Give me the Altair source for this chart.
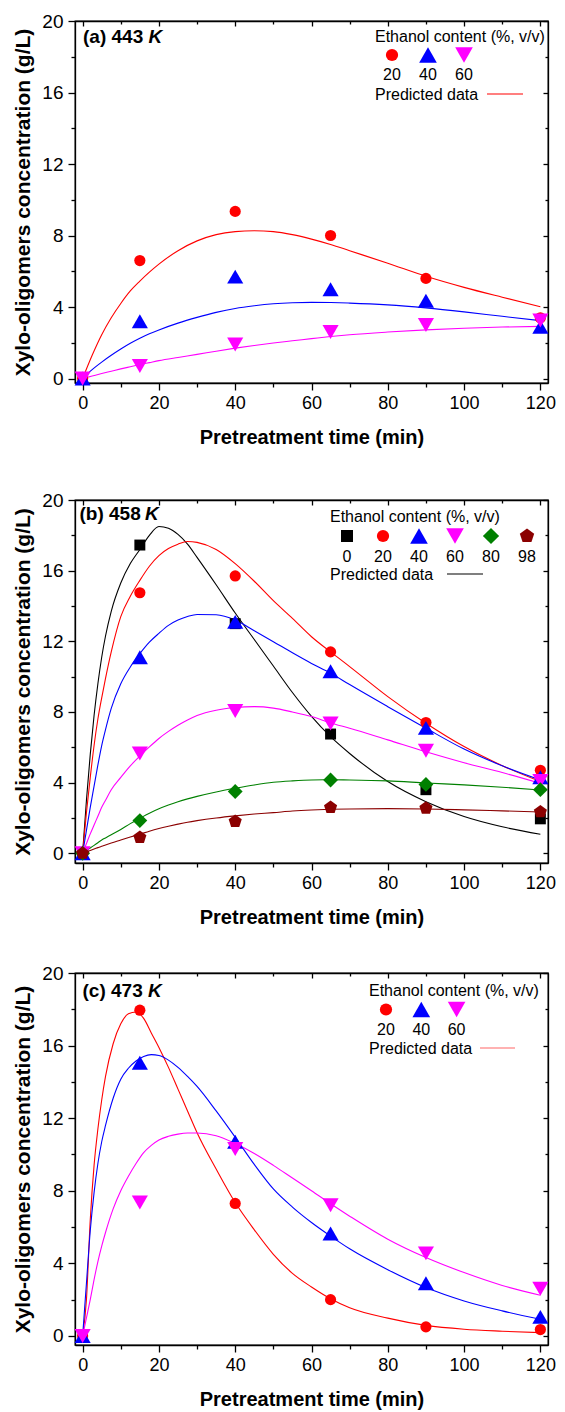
import altair as alt
import pandas as pd

FONT = "Liberation Sans"

# ---------------- data ----------------
TIME_PTS = [0, 15, 40, 65, 90, 120]

# (a) 443 K
A_SERIES = ["20", "40", "60"]
A_OBS = {
    "20": [0, 6.6, 9.35, 8.0, 5.6, 3.4],
    "40": [0, 3.2, 5.7, 5.0, 4.35, 2.9],
    "60": [0, 0.7, 1.9, 2.6, 3.0, 3.25],
}
A_FIT_T = [0, 2.5, 5, 7.5, 10, 12.5, 15, 17.5, 20, 25, 30, 35, 40, 45, 50, 55, 60, 65, 70, 80, 90, 100, 110, 120]
A_FIT = {
    "20": [0, 1.3, 2.45, 3.4, 4.2, 4.9, 5.45, 5.95, 6.4, 7.15, 7.7, 8.05, 8.22, 8.27, 8.22, 8.05, 7.8, 7.5, 7.15, 6.45, 5.72, 5.1, 4.55, 4.02],
    "40": [0, 0.5, 0.92, 1.3, 1.65, 1.97, 2.25, 2.5, 2.72, 3.1, 3.42, 3.7, 3.92, 4.07, 4.18, 4.24, 4.26, 4.25, 4.22, 4.12, 3.95, 3.73, 3.48, 3.24],
    "60": [0, 0.14, 0.28, 0.41, 0.54, 0.66, 0.78, 0.89, 1.0, 1.18, 1.35, 1.53, 1.7, 1.85, 1.99, 2.11, 2.23, 2.35, 2.45, 2.6, 2.72, 2.81, 2.88, 2.92],
}

# (b) 458 K
B_SERIES = ["0", "20", "40", "60", "80", "98"]
B_OBS = {
    "0": [0, 17.45, 13.0, 6.75, 3.6, 1.95],
    "20": [0, 14.75, 15.7, 11.4, 7.4, 4.7],
    "40": [0, 11.1, 13.1, 10.3, 7.1, 4.3],
    "60": [0, 5.65, 8.05, 7.35, 5.8, 4.1],
    "80": [0, 1.85, 3.5, 4.15, 3.9, 3.6],
    "98": [0, 0.9, 1.8, 2.6, 2.55, 2.35],
}
B_FIT_T = [0, 1, 2, 3, 4, 5, 6, 7.5, 10, 12.5, 15, 17.5, 20, 22.5, 25, 27.5, 30, 35, 40, 45, 50, 55, 60, 65, 70, 80, 90, 100, 110, 120]
B_FIT = {
    "0": [0, 3.0, 5.6, 7.8, 9.6, 11.1, 12.3, 13.7, 15.3, 16.4, 17.2, 18.0, 18.5, 18.4, 18.05, 17.5, 16.75, 15.2, 13.6, 12.1, 10.6, 9.1, 7.75, 6.6, 5.65, 4.06, 2.92, 2.08, 1.5, 1.08],
    "20": [0, 2.3, 4.3, 6.1, 7.6, 8.8, 9.9, 11.4, 13.4, 14.55, 15.45, 16.25, 16.85, 17.25, 17.5, 17.65, 17.6, 17.2, 16.4, 15.4, 14.3, 13.3, 12.26, 11.4, 10.57, 8.87, 7.36, 6.04, 4.96, 4.06],
    "40": [0, 1.3, 2.6, 3.8, 5.0, 6.1, 7.0, 8.2, 9.6, 10.55, 11.3, 11.95, 12.45, 12.9, 13.2, 13.4, 13.52, 13.5, 13.2, 12.6, 11.98, 11.35, 10.75, 10.2, 9.55, 8.3, 7.08, 5.9, 4.95, 4.15],
    "60": [0, 0.55, 1.1, 1.6, 2.1, 2.6, 3.0, 3.6, 4.3, 4.95, 5.5, 6.02, 6.5, 6.9, 7.25, 7.55, 7.8, 8.1, 8.25, 8.3, 8.22, 8.0, 7.74, 7.38, 7.08, 6.42, 5.75, 5.13, 4.57, 3.96],
    "80": [0, 0.15, 0.3, 0.45, 0.6, 0.75, 0.87, 1.05, 1.35, 1.68, 1.98, 2.27, 2.52, 2.73, 2.92, 3.08, 3.22, 3.47, 3.68, 3.87, 4.02, 4.1, 4.15, 4.16, 4.15, 4.1, 3.98, 3.87, 3.74, 3.58],
    "98": [0, 0.08, 0.16, 0.24, 0.32, 0.4, 0.47, 0.58, 0.75, 0.92, 1.08, 1.25, 1.4, 1.53, 1.65, 1.76, 1.85, 2.0, 2.12, 2.22, 2.3, 2.39, 2.45, 2.49, 2.51, 2.53, 2.51, 2.46, 2.4, 2.34],
}

# (c) 473 K
C_SERIES = ["20", "40", "60"]
C_OBS = {
    "20": [0, 17.95, 7.3, 2.0, 0.5, 0.35],
    "40": [0, 15.05, 10.7, 5.65, 2.9, 1.05],
    "60": [0, 7.35, 10.3, 7.2, 4.55, 2.6],
}
C_FIT_T = [0, 1, 2, 3, 4, 5, 6, 8, 10, 12, 14, 16, 18, 20, 22.5, 25, 27.5, 30, 35, 40, 45, 50, 55, 60, 65, 70, 80, 90, 100, 110, 120]
C_FIT = {
    "20": [0, 2.0, 6.4, 9.4, 11.4, 13.0, 14.3, 16.1, 17.2, 17.75, 17.85, 17.5, 16.7, 15.9, 14.8, 13.6, 12.4, 11.2, 9.2, 7.35, 5.85, 4.5, 3.45, 2.7, 2.05, 1.55, 0.98, 0.58, 0.37, 0.26, 0.18],
    "40": [0, 2.9, 5.8, 7.9, 9.5, 10.7, 11.6, 13.1, 14.15, 14.75, 15.15, 15.4, 15.5, 15.45, 15.2, 14.8, 14.3, 13.75, 12.4, 10.95, 9.45, 8.1, 7.1, 6.25, 5.5, 4.8, 3.65, 2.67, 1.93, 1.38, 0.92],
    "60": [0, 1.0, 2.0, 3.1, 4.1, 4.95, 5.7, 7.0, 8.0, 8.8, 9.5, 10.1, 10.5, 10.8, 11.0, 11.12, 11.18, 11.18, 11.03, 10.6, 10.05, 9.4, 8.7, 8.0, 7.28, 6.6, 5.33, 4.32, 3.49, 2.78, 2.24],
}

PANEL_TAGS = [("(a) 443 ", "K"), ("(b) 458 ", "K"), ("(c) 473 ", "K")]
LEGEND_TITLE = "Ethanol content (%, v/v)"
LEGEND_LINE_TEXT = "Predicted data"
X_TITLE = "Pretreatment time (min)"
Y_TITLE = "Xylo-oligomers concentration (g/L)"

# ---------------- styles ----------------
PENTAGON = "M0,-1L0.951,-0.309L0.588,0.809L-0.588,0.809L-0.951,-0.309Z"
COLOR = {"0": "#000000", "20": "#ff0000", "40": "#0000ff", "60": "#ff00ff", "80": "#008000", "98": "#8b0000"}
SHAPE = {"0": "square", "20": "circle", "40": "triangle-up", "60": "triangle-down", "80": "diamond", "98": PENTAGON}
SIZE = {"0": 120, "20": 125, "40": 260, "60": 260, "80": 220, "98": 190}
LEGEND_SIZE_FACTOR = 1.2

WIDTH = 473
X_DOMAIN = [-2, 122]
AX_STYLE = dict(grid=False, domainColor="black", domainWidth=1.3, tickColor="black", tickWidth=1.3)


def x_axes():
    bottom = alt.Axis(
        values=list(range(0, 121, 10)),
        labelExpr="datum.value % 20 === 0 ? datum.label : ''",
        tickSize={"expr": "datum.value % 20 === 0 ? 7 : 4"},
        title=X_TITLE, titleFontSize=20, titleFontWeight="bold", titleFont=FONT,
        titleColor="black", titlePadding=15,
        labelFontSize=18, labelFont=FONT, labelColor="black", labelPadding=4,
        labelOverlap=False, labelFlush=False, **AX_STYLE,
    )
    top = alt.Axis(
        orient="top", values=list(range(0, 121, 10)), labels=False, title=None,
        tickSize={"expr": "datum.value % 20 === 0 ? -5 : -3"},
        minExtent=0, maxExtent=0, **AX_STYLE,
    )
    return bottom, top


def y_axes():
    left = alt.Axis(
        values=list(range(0, 21, 2)),
        labelExpr="datum.value % 4 === 0 ? datum.label : ''",
        tickSize={"expr": "datum.value % 4 === 0 ? 7 : 4"},
        title=Y_TITLE, titleFontSize=21, titleFontWeight="bold", titleFont=FONT,
        titleColor="black", titlePadding=8,
        labelFontSize=19, labelFont=FONT, labelColor="black", labelPadding=5,
        labelOverlap=False, labelFlush=False, **AX_STYLE,
    )
    right = alt.Axis(
        orient="right", values=list(range(0, 21, 2)), labels=False, title=None,
        tickSize={"expr": "datum.value % 4 === 0 ? -5 : -3"},
        minExtent=0, maxExtent=0, **AX_STYLE,
    )
    return left, right


def make_panel(tag, series, obs, fit_t, fit, ydom, height, leg):
    xs = alt.Scale(domain=X_DOMAIN, nice=False, zero=False)
    ys = alt.Scale(domain=ydom, nice=False, zero=False)
    cs = alt.Scale(domain=series, range=[COLOR[s] for s in series])
    ss = alt.Scale(domain=series, range=[SHAPE[s] for s in series])
    xb, xt = x_axes()
    yl, yr = y_axes()

    fit_df = pd.DataFrame(
        [{"t": t, "v": v, "series": s} for s in series for t, v in zip(fit_t, fit[s])]
    )
    obs_df = pd.DataFrame(
        [{"t": t, "v": v, "series": s} for s in series for t, v in zip(TIME_PTS, obs[s])]
    )
    obs_df["sz"] = obs_df["series"].map(SIZE)

    color = alt.Color("series:N", scale=cs, legend=None)
    shape = alt.Shape("series:N", scale=ss, legend=None)
    size = alt.Size("sz:Q", scale=None, legend=None)

    lines = alt.Chart(fit_df).mark_line(strokeWidth=1.1, interpolate="monotone").encode(
        x=alt.X("t:Q", scale=xs, axis=xb),
        y=alt.Y("v:Q", scale=ys, axis=yl),
        color=color,
        detail="series:N",
    )
    points = alt.Chart(obs_df).mark_point(filled=True, opacity=1, strokeWidth=0).encode(
        x=alt.X("t:Q", scale=xs, axis=xt),
        y=alt.Y("v:Q", scale=ys, axis=yr),
        color=color, shape=shape, size=size,
    )

    # panel tag
    tag_df = pd.DataFrame({"txt": [tag[0]]})
    k_df = pd.DataFrame({"txt": [tag[1]]})
    tag1 = alt.Chart(tag_df).mark_text(
        align="left", baseline="middle", fontSize=19, fontWeight="bold", font=FONT, color="black"
    ).encode(x=alt.value(leg["tx"]), y=alt.value(leg["ty"]), text="txt:N")
    tag2 = alt.Chart(k_df).mark_text(
        align="left", baseline="middle", fontSize=19, fontWeight="bold", fontStyle="italic",
        font=FONT, color="black"
    ).encode(x=alt.value(leg["tx"] + 65.5), y=alt.value(leg["ty"]), text="txt:N")

    # custom legend built from the same colour/shape scales
    leg_df = pd.DataFrame({"series": series})
    leg_df["lx"] = [leg["sx"] + i * leg["dx"] for i in range(len(series))]
    leg_df["sz"] = leg_df["series"].map(SIZE) * LEGEND_SIZE_FACTOR
    title_df = pd.DataFrame({"txt": [LEGEND_TITLE]})
    pred_df = pd.DataFrame({"txt": [LEGEND_LINE_TEXT]})
    ltitle = alt.Chart(title_df).mark_text(
        align="left", baseline="middle", fontSize=16, font=FONT, color="black"
    ).encode(x=alt.value(leg["lx"]), y=alt.value(leg["y0"]), text="txt:N")
    lsym = alt.Chart(leg_df).mark_point(filled=True, opacity=1, strokeWidth=0).encode(
        x=alt.X("lx:Q", scale=None, axis=None),
        y=alt.value(leg["y1"]),
        color=color, shape=shape, size=size,
    )
    llab = alt.Chart(leg_df).mark_text(
        align="center", baseline="middle", fontSize=16, font=FONT, color="black"
    ).encode(
        x=alt.X("lx:Q", scale=None, axis=None),
        y=alt.value(leg["y2"]),
        text="series:N",
    )
    lpred = alt.Chart(pred_df).mark_text(
        align="left", baseline="middle", fontSize=16, font=FONT, color="black"
    ).encode(x=alt.value(leg["lx"]), y=alt.value(leg["y3"]), text="txt:N")
    lrule = alt.Chart(pred_df).mark_rule(color=leg["lc"], strokeWidth=1.2).encode(
        x=alt.value(leg["r1"]), x2=alt.value(leg["r2"]), y=alt.value(leg["y3"] - 1)
    )

    return alt.layer(lines, points, tag1, tag2, ltitle, lsym, llab, lpred, lrule).resolve_axis(
        x="independent", y="independent"
    ).properties(width=WIDTH, height=height)


pa = make_panel(
    PANEL_TAGS[0], A_SERIES, A_OBS, A_FIT_T, A_FIT, [-0.25, 20], 362,
    dict(tx=8, ty=16, lx=300, sx=317, dx=36, y0=16, y1=34, y2=54, y3=74, r1=412, r2=448, lc="#ff0000"),
)
pb = make_panel(
    PANEL_TAGS[1], B_SERIES, B_OBS, B_FIT_T, B_FIT, [-0.55, 20], 363,
    dict(tx=4.5, ty=13.5, lx=255, sx=272, dx=36, y0=17, y1=36, y2=56.5, y3=75, r1=372, r2=408, lc="#000000"),
)
pc = make_panel(
    PANEL_TAGS[2], C_SERIES, C_OBS, C_FIT_T, C_FIT, [-0.5, 20], 372,
    dict(tx=7.5, ty=17.5, lx=294, sx=311, dx=35.3, y0=17.5, y1=36.5, y2=56.5, y3=76, r1=405, r2=440, lc="#ff6666"),
)

indep = dict(x="independent", y="independent", color="independent", shape="independent")

top2 = alt.vconcat(pa, pb, spacing=42).resolve_scale(**indep)
chart = alt.vconcat(top2, pc, spacing=35).resolve_scale(**indep).properties(
    padding={"left": 4, "top": 3, "right": 0, "bottom": 0}
).configure(font=FONT).configure_view(stroke="black", strokeWidth=1.3)

chart.save("out.html", embed_options={"renderer": "svg", "actions": False})
